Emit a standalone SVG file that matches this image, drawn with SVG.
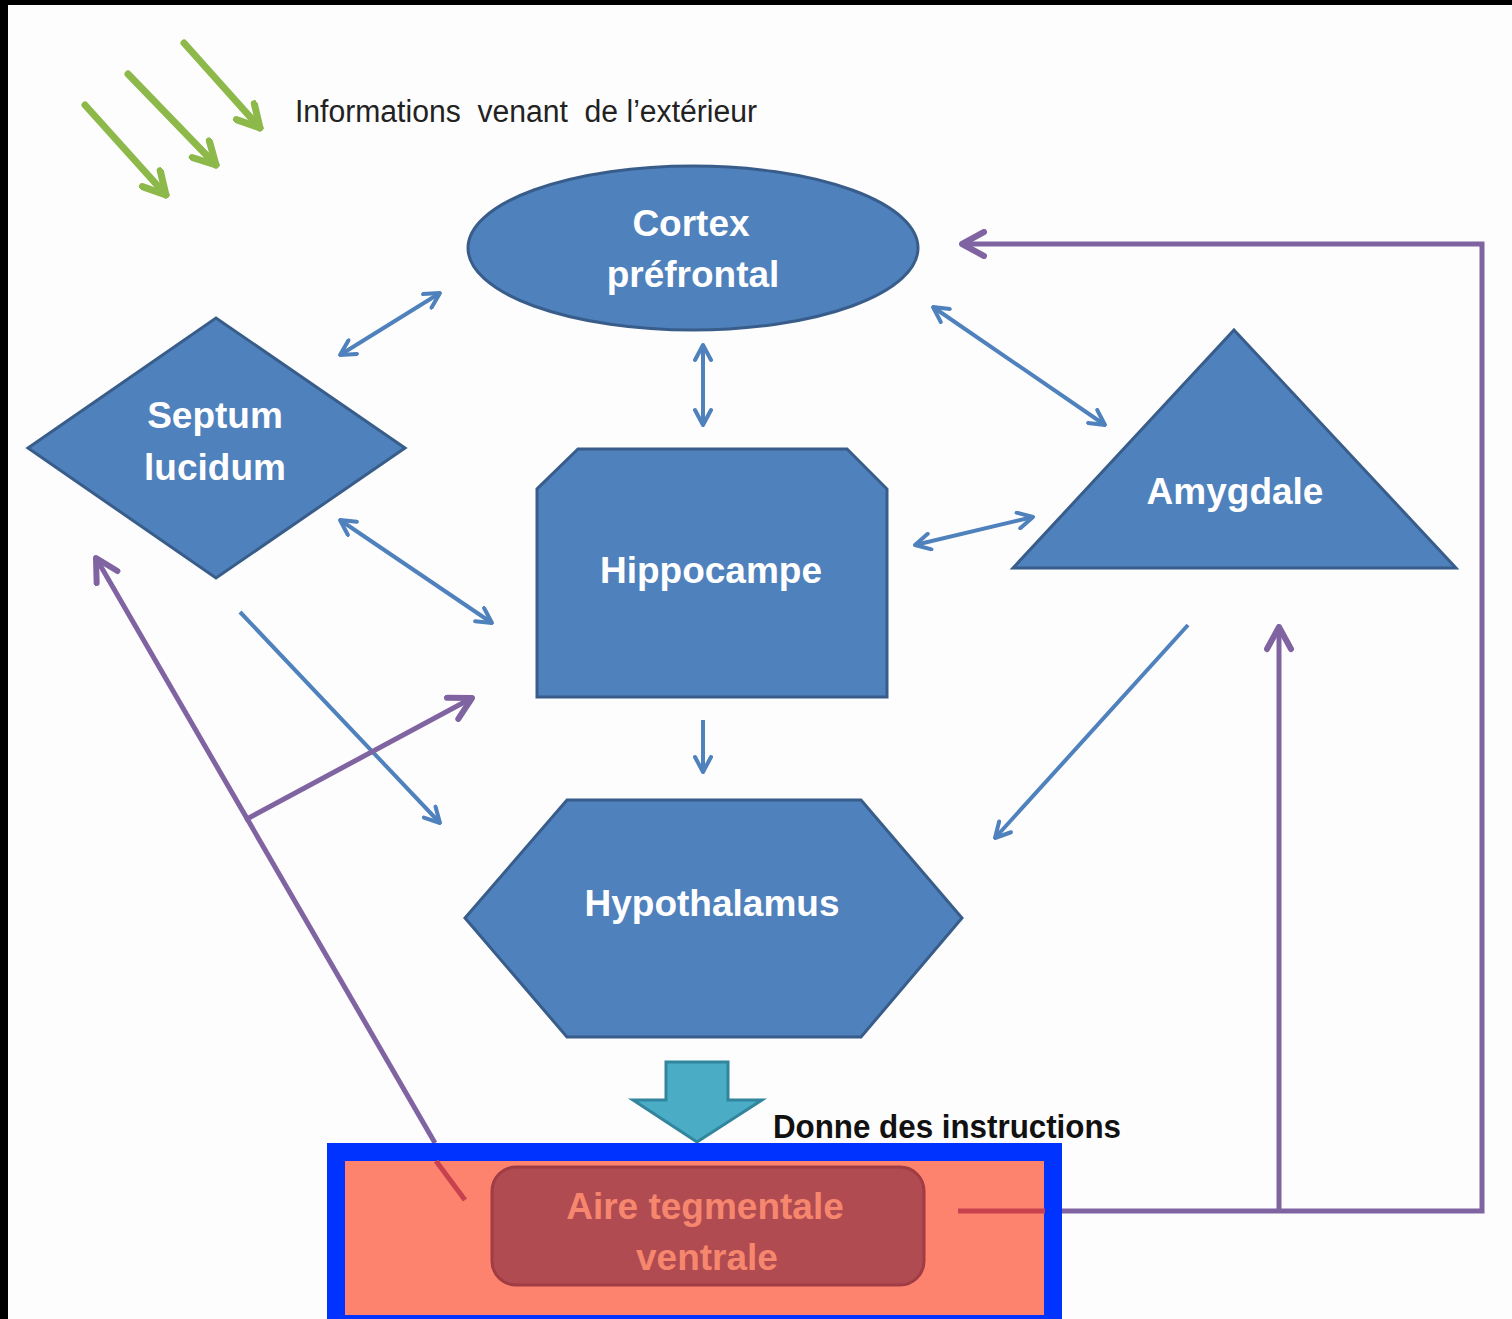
<svg xmlns="http://www.w3.org/2000/svg" width="1512" height="1319" viewBox="0 0 1512 1319">
<style>
.node{fill:#4F81BD;stroke:#385D8A;stroke-width:3}
.lbl{font-family:"Liberation Sans",Arial,sans-serif;font-weight:bold;font-size:37px;fill:#FFFFFF;text-anchor:middle}
.blue{stroke:#4F81BD;stroke-width:4;fill:none}
.purple{stroke:#8064A2;stroke-width:5;fill:none}
.green{stroke:#8DB84A;stroke-width:7;fill:none;stroke-linecap:round}
</style>
<defs>
<marker id="ab" viewBox="0 0 20 20" refX="18" refY="10" markerWidth="20" markerHeight="20" markerUnits="userSpaceOnUse" orient="auto-start-reverse">
<path d="M3,2 L18,10 L3,18" fill="none" stroke="#4F81BD" stroke-width="4" stroke-linecap="round" stroke-linejoin="round"/>
</marker>
<marker id="ap" viewBox="0 0 30 30" refX="27" refY="15" markerWidth="30" markerHeight="30" markerUnits="userSpaceOnUse" orient="auto-start-reverse">
<path d="M5,3 L27,15 L5,27" fill="none" stroke="#8064A2" stroke-width="6" stroke-linecap="round" stroke-linejoin="round"/>
</marker>
<marker id="ag" viewBox="0 0 30 30" refX="27" refY="15" markerWidth="30" markerHeight="30" markerUnits="userSpaceOnUse" orient="auto">
<path d="M5,3 L27,15 L5,27" fill="none" stroke="#8DB84A" stroke-width="7" stroke-linecap="round" stroke-linejoin="round"/>
</marker>
</defs>
<rect x="0" y="0" width="1512" height="1319" fill="#FDFDFD"/>
<rect x="0" y="0" width="1512" height="5" fill="#000"/>
<rect x="0" y="0" width="8" height="1319" fill="#000"/>

<g id="legend">
<line class="green" x1="85" y1="105" x2="166" y2="195" marker-end="url(#ag)"/>
<line class="green" x1="128" y1="74" x2="216" y2="165" marker-end="url(#ag)"/>
<line class="green" x1="184" y1="43" x2="260" y2="128" marker-end="url(#ag)"/>
<text x="295" y="122" font-family="Liberation Sans,Arial,sans-serif" font-size="31" fill="#222" textLength="462" lengthAdjust="spacingAndGlyphs" style="white-space:pre">Informations  venant  de l’extérieur</text>
</g>

<g id="connectors">
<line class="blue" x1="340" y1="355" x2="440" y2="293" marker-start="url(#ab)" marker-end="url(#ab)"/>
<line class="blue" x1="703" y1="345" x2="703" y2="425" marker-start="url(#ab)" marker-end="url(#ab)"/>
<line class="blue" x1="933" y1="307" x2="1105" y2="425" marker-start="url(#ab)" marker-end="url(#ab)"/>
<line class="blue" x1="915" y1="545" x2="1033" y2="517" marker-start="url(#ab)" marker-end="url(#ab)"/>
<line class="blue" x1="340" y1="520" x2="492" y2="623" marker-start="url(#ab)" marker-end="url(#ab)"/>
<line class="blue" x1="240" y1="612" x2="440" y2="823" marker-end="url(#ab)"/>
<line class="blue" x1="703" y1="720" x2="703" y2="772" marker-end="url(#ab)"/>
<line class="blue" x1="1188" y1="625" x2="995" y2="838" marker-end="url(#ab)"/>
<polyline class="purple" points="1062,1211 1482,1211 1482,244 962,244" marker-end="url(#ap)"/>
<line class="purple" x1="1279" y1="1211" x2="1279" y2="627" marker-end="url(#ap)"/>
<line class="purple" x1="435" y1="1143" x2="96" y2="558" marker-end="url(#ap)"/>
<line class="purple" x1="245" y1="820" x2="472" y2="698" marker-end="url(#ap)"/>
<polygon points="666,1062 728,1062 728,1100 762,1100 697,1142 633,1100 666,1100" fill="#4BACC6" stroke="#31859C" stroke-width="3"/>
</g>

<g id="cortex">
<ellipse class="node" cx="693" cy="248" rx="225" ry="82"/>
<text class="lbl" x="691" y="236">Cortex</text>
<text class="lbl" x="693" y="287">préfrontal</text>
</g>

<g id="septum">
<polygon class="node" points="28,448 216,318 405,448 216,578"/>
<text class="lbl" x="215" y="428">Septum</text>
<text class="lbl" x="215" y="480">lucidum</text>
</g>

<g id="hippocampe">
<polygon class="node" points="578,449 847,449 887,489 887,697 537,697 537,489"/>
<text class="lbl" x="711" y="583">Hippocampe</text>
</g>

<g id="amygdale">
<polygon class="node" points="1234,330 1456,568 1013,568"/>
<text class="lbl" x="1235" y="504">Amygdale</text>
</g>

<g id="hypothalamus">
<polygon class="node" points="465,918 567,800 861,800 962,918 861,1037 567,1037"/>
<text class="lbl" x="712" y="916">Hypothalamus</text>
</g>

<g id="instructions">
<text x="773" y="1138" font-family="Liberation Sans,Arial,sans-serif" font-weight="bold" font-size="33" fill="#111" textLength="348" lengthAdjust="spacingAndGlyphs">Donne des instructions</text>
</g>

<g id="aire-tegmentale">
<rect x="336" y="1152" width="717" height="172" fill="#FE836F" stroke="#0033FF" stroke-width="18"/>
<line x1="465" y1="1200" x2="436" y2="1161" stroke="#C8414E" stroke-width="5"/>
<line x1="958" y1="1211" x2="1045" y2="1211" stroke="#C8414E" stroke-width="5"/>
<rect x="492" y="1167" width="432" height="118" rx="24" fill="#B04B51" stroke="#A03C44" stroke-width="3"/>
<text class="lbl" x="705" y="1219" style="fill:#F6876E">Aire tegmentale</text>
<text class="lbl" x="707" y="1270" style="fill:#F6876E">ventrale</text>
</g>
</svg>
